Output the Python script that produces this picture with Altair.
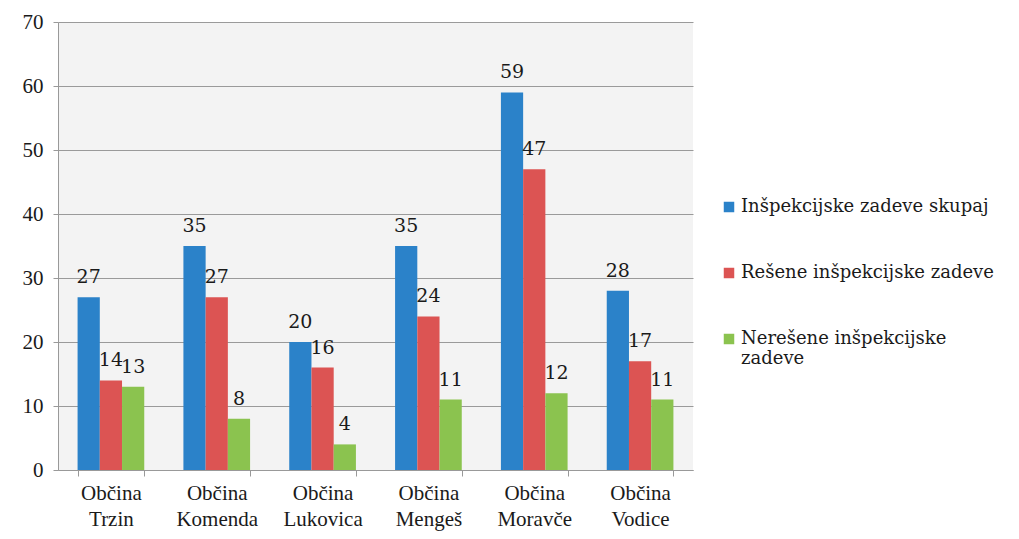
import altair as alt
import pandas as pd

categories = ["Občina Trzin", "Občina Komenda", "Občina Lukovica", "Občina Mengeš", "Občina Moravče", "Občina Vodice"]
series = ["Inšpekcijske zadeve skupaj", "Rešene inšpekcijske zadeve", "Nerešene inšpekcijske zadeve"]
skupaj = [27, 35, 20, 35, 59, 28]
resene = [14, 27, 16, 24, 47, 17]
neresene = [13, 8, 4, 11, 12, 11]
colors = ["#2b82c9", "#dc5453", "#8bc34f"]

rows = []
for i, c in enumerate(categories):
    for s, vals in zip(series, [skupaj, resene, neresene]):
        rows.append({"kategorija": c, "serija": s, "vrednost": vals[i]})
df = pd.DataFrame(rows)

FONT = "Liberation Serif"
FONT2 = "DejaVu Serif"

x = alt.X("kategorija:N", sort=categories, title=None,
          scale=alt.Scale(paddingInner=0.37, paddingOuter=0.185),
          axis=alt.Axis(labelExpr="split(datum.label, ' ')", labelAngle=0,
                        labelFont=FONT, labelFontSize=21, labelColor="#1a1a1a",
                        labelLineHeight=26, labelPadding=6, labelBaseline="top",
                        tickBand="extent", tickSize=6, tickColor="#999999",
                        domainColor="#999999", grid=False))
xoff = alt.XOffset("serija:N", sort=series)
y = alt.Y("vrednost:Q", title=None,
          scale=alt.Scale(domain=[0, 70]),
          axis=alt.Axis(values=[0, 10, 20, 30, 40, 50, 60, 70],
                        labelFont=FONT, labelFontSize=21, labelColor="#1a1a1a",
                        labelPadding=10, tickSize=5, tickColor="#999999",
                        domainColor="#999999", gridColor="#9a9a9a",
                        gridWidth=1))
color = alt.Color("serija:N", sort=series,
                  scale=alt.Scale(domain=series, range=colors),
                  legend=alt.Legend(title=None, orient="none", legendX=662, legendY=176,
                                    symbolType="square", symbolSize=110,
                                    symbolStrokeWidth=0, labelFont=FONT2,
                                    labelFontSize=18, labelColor="#1a1a1a",
                                    labelLimit=400, rowPadding=48, labelOffset=3,
                                    labelExpr="datum.label == 'Nerešene inšpekcijske zadeve' ? ['Nerešene inšpekcijske', 'zadeve'] : datum.label"))

bars = alt.Chart(df).mark_bar().encode(x=x, xOffset=xoff, y=y, color=color)
labels = alt.Chart(df).mark_text(font=FONT2, fontSize=19, color="#1a1a1a",
                                 baseline="bottom", dy=-10).encode(
    x=alt.X("kategorija:N", sort=categories), xOffset=xoff, y="vrednost:Q",
    text="vrednost:Q")

chart = (bars + labels).properties(
    width=635, height=448,
    autosize=alt.AutoSizeParams(type="none"),
    padding={"left": 50, "top": 14, "right": 318, "bottom": 61},
    background="#ffffff",
).configure_view(fill="#f3f3f3", stroke=None)

chart.save("out.html", embed_options={"renderer": "svg", "actions": False})
